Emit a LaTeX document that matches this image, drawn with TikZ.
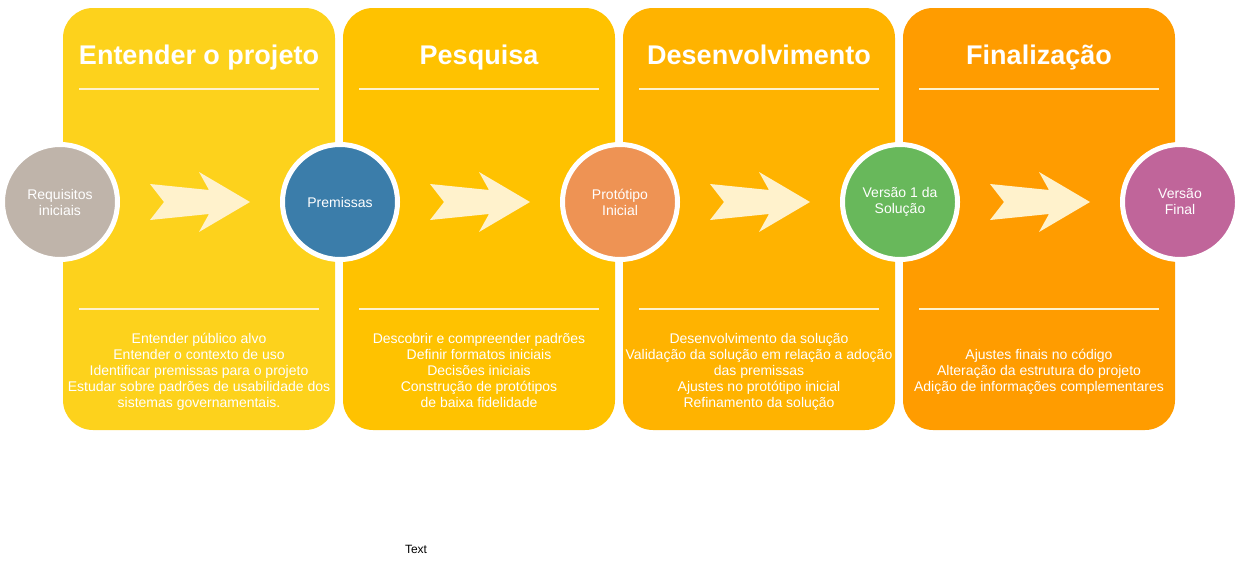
\documentclass[tikz,border=0pt]{standalone}
\usepackage{fontspec}
\setmainfont{Liberation Sans}
\definecolor{pa}{HTML}{FDD21C}
\definecolor{pb}{HTML}{FFC200}
\definecolor{pc}{HTML}{FFB300}
\definecolor{pd}{HTML}{FF9C00}
\definecolor{ca}{HTML}{BFB4AA}
\definecolor{cb}{HTML}{3B7DAA}
\definecolor{cc}{HTML}{EE9354}
\definecolor{cd}{HTML}{68B85B}
\definecolor{ce}{HTML}{C0659A}
\definecolor{cream}{HTML}{FFF2CC}
\begin{document}
\begin{tikzpicture}[x=1pt,y=-1pt,
  panel/.style={rectangle,rounded corners=30pt,minimum width=272pt,minimum height=422pt,inner sep=0pt,draw=none},
  title/.style={text=white,font=\fontsize{27}{30}\selectfont\bfseries,anchor=base,inner sep=0pt},
  body/.style={text=white,font=\fontsize{14}{16}\selectfont,align=center,anchor=center,inner sep=0pt,execute at begin node=\strut,execute at end node=\strut},
  circ/.style={circle,minimum size=115pt,inner sep=0pt,draw=white,line width=5pt,text=white,font=\fontsize{14}{16}\selectfont,align=center},
  sep/.style={draw=cream,line width=2pt},
  chev/.style={fill=cream,draw=none}]
\useasboundingbox (0,0) rectangle (1241,560);
\node[panel,fill=pa] (p1) at (199,219) {};
\node[panel,fill=pb] (p2) at (479,219) {};
\node[panel,fill=pc] (p3) at (759,219) {};
\node[panel,fill=pd] (p4) at (1039,219) {};
\foreach \i/\x in {1/199,2/479,3/759,4/1039}{
  \draw[sep] (\x-120,89) -- (\x+120,89);
  \draw[sep] (\x-120,309) -- (\x+120,309);
  \fill[chev] (\x-49,184) -- (\x-35,202) -- (\x-49,220) -- (\x+10,214) -- (\x,232) -- (\x+51,202) -- (\x,172) -- (\x+10,190) -- cycle;
}
\node[title] (t1) at (199,64) {Entender o projeto};
\node[title] (t2) at (479,64) {Pesquisa};
\node[title] (t3) at (759,64) {Desenvolvimento};
\node[title] (t4) at (1039,64) {Finalização};
\node[body] (b1) at (199,373) {Entender público alvo\\Entender o contexto de uso\\Identificar premissas para o projeto\\Estudar sobre padrões de usabilidade dos\\sistemas governamentais.};
\node[body] (b2) at (479,373) {Descobrir e compreender padrões\\Definir formatos iniciais\\Decisões iniciais\\Construção de protótipos\\de baixa fidelidade};
\node[body] (b3) at (759,373) {Desenvolvimento da solução\\Validação da solução em relação a adoção\\das premissas\\Ajustes no protótipo inicial\\Refinamento da solução};
\node[body] (b4) at (1039,373) {Ajustes finais no código\\Alteração da estrutura do projeto\\Adição de informações complementares};
\node[circ,fill=ca] (c0) at (60,202) {Requisitos\\iniciais};
\node[circ,fill=cb] (c1) at (340,202) {Premissas};
\node[circ,fill=cc] (c2) at (620,202) {Protótipo\\Inicial};
\node[circ,fill=cd] (c3) at (900,202) {Versão 1 da\\Solução};
\node[circ,fill=ce] (c4) at (1180,202) {Versão\\Final};
\node[font=\fontsize{12}{14}\selectfont,text=black] (tx) at (416,549) {Text};
\end{tikzpicture}
\end{document}
